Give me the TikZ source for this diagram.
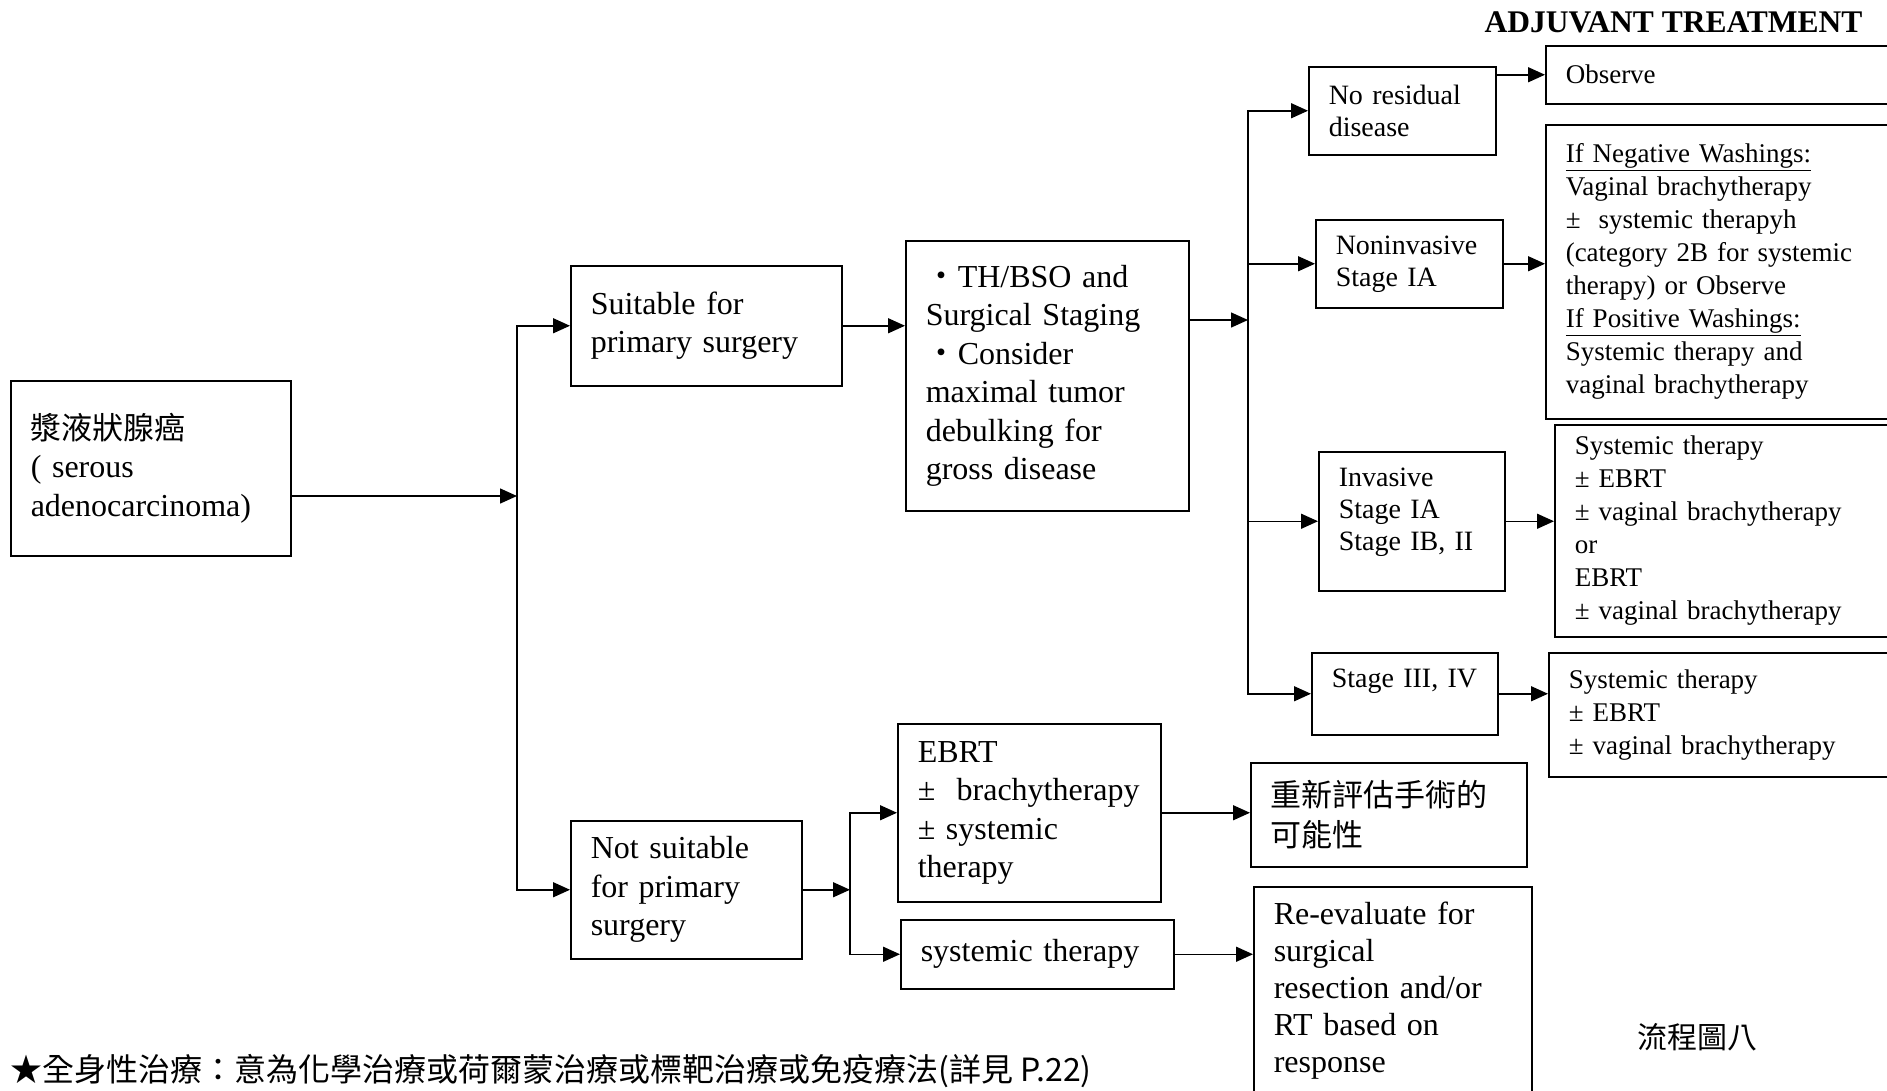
\documentclass[tikz,border=0pt]{standalone}
\usepackage{fontspec}
\setmainfont{Liberation Serif}
\newfontfamily\cjk{Noto Sans CJK TC}
\usetikzlibrary{arrows.meta, positioning, calc}

\begin{document}
\begin{tikzpicture}[
    x=1pt, y=-1pt,
    box/.style={rectangle, draw=black, line width=1.5pt, anchor=north west,
                inner xsep=20pt, inner ysep=3pt, align=left},
    txtbig/.style={font=\fontsize{32}{38.5}\selectfont},
    txtmid/.style={font=\fontsize{28}{32}\selectfont},
    txtsmall/.style={font=\fontsize{27}{33}\selectfont},
    arrow/.style={-{Triangle[length=17pt, width=15pt]}, line width=1.5pt}
]
    \useasboundingbox (0,0) rectangle (1887,1090);

    % primary branch
    \node[box, txtbig, text width=240pt, minimum height=175pt] (serous) at (10,380)
        {{\cjk\fontsize{31}{38.5}\selectfont 漿液狀腺癌}\\( serous\\adenocarcinoma)};
    \node[box, txtbig, text width=231pt, minimum height=120pt] (suit) at (570,265)
        {Suitable for\\primary surgery};
    \node[box, txtbig, text width=243pt, minimum height=270pt] (th) at (905,240)
        {{\cjk ・}TH/BSO and\\Surgical Staging\\{\cjk ・}Consider\\maximal tumor\\debulking for\\gross disease};

    % surgical findings
    \node[box, txtmid, text width=147pt, minimum height=88pt] (nores) at (1308,66)
        {No residual\\disease};
    \node[box, txtmid, text width=147pt, minimum height=88pt] (nonin) at (1315,219)
        {Noninvasive\\Stage IA};
    \node[box, txtmid, text width=146pt, minimum height=139pt, text depth=88pt] (inv) at (1318,451)
        {Invasive\\Stage IA\\Stage IB, II};
    \node[box, txtmid, text width=146pt, minimum height=82pt, text depth=32pt] (st3) at (1311,652)
        {Stage III, IV};

    % adjuvant treatment
    \node[anchor=base east, font=\bfseries\fontsize{31.5}{36}\selectfont] (title) at (1866,32)
        {ADJUVANT TREATMENT};
    \node[box, txtsmall, text width=360pt, minimum height=58pt] (obs) at (1545,45)
        {Observe};
    \node[box, txtsmall, text width=360pt, minimum height=294pt] (negw) at (1545,124)
        {\underline{If Negative Washings:}\\Vaginal brachytherapy\\±\ \ systemic therapyh\\(category 2B for systemic\\therapy) or Observe\\\underline{If Positive Washings:}\\Systemic therapy and\\vaginal brachytherapy};
    \node[box, txtsmall, text width=360pt, minimum height=212pt] (invr) at (1554,424)
        {Systemic therapy\\± EBRT\\± vaginal brachytherapy\\or\\EBRT\\± vaginal brachytherapy};
    \node[box, txtsmall, text width=360pt, minimum height=124pt] (st3r) at (1548,652)
        {Systemic therapy\\± EBRT\\± vaginal brachytherapy};

    % non-surgical branch
    \node[box, txtbig, text width=191pt, minimum height=138pt] (nsuit) at (570,820)
        {Not suitable\\for primary\\surgery};
    \node[box, txtbig, text width=223pt, minimum height=178pt] (ebrt) at (897,723)
        {EBRT\\±\ \ brachytherapy\\± systemic\\therapy};
    \node[box, txtbig, text width=233pt, minimum height=69pt] (systx) at (900,919)
        {systemic therapy};
    \node[box, font=\cjk\fontsize{31}{40}\selectfont, text width=236pt, minimum height=104pt] (reas) at (1250,762)
        {重新評估手術的\\可能性};
    \node[box, font=\fontsize{32}{37}\selectfont, text width=238pt, minimum height=208pt] (reev) at (1253,886)
        {Re-evaluate for\\surgical\\resection and/or\\RT based on\\response};

    \node[font=\cjk\fontsize{30}{36}\selectfont] (figno) at (1697,1037) {流程圖八};
    \node[anchor=base west, inner sep=0pt, font=\cjk\fontsize{32}{36}\selectfont] (note) at (10,1081)
        {★全身性治療：意為化學治療或荷爾蒙治療或標靶治療或免疫療法(詳見 P.22)};

    % connectors
    \coordinate (j1) at (517,496);
    \coordinate (j2) at (1248,320);
    \coordinate (j3) at (850,889);

    \draw[arrow] (serous.east |- j1) -- (j1);
    \draw[arrow] (j1) |- (suit.west);
    \draw[arrow] (j1) |- (nsuit.west);
    \draw[arrow] (suit.east) -- (suit.east -| th.west);
    \draw[arrow] (th.east |- j2) -- (j2);
    \foreach \n in {nores, nonin, inv, st3}
        \draw[arrow] (j2) |- (\n.west);
    \draw[arrow] (nores.east |- obs.west) -- (obs.west);
    \draw[arrow] (nonin.east) -- (nonin.east -| negw.west);
    \draw[arrow] (inv.east) -- (inv.east -| invr.west);
    \draw[arrow] (st3.east) -- (st3.east -| st3r.west);
    \draw[arrow] (nsuit.east) -- (nsuit.east -| j3);
    \draw[arrow] (j3) |- (ebrt.west);
    \draw[arrow] (j3) |- (systx.west);
    \draw[arrow] (ebrt.east) -- (ebrt.east -| reas.west);
    \draw[arrow] (systx.east) -- (systx.east -| reev.west);
\end{tikzpicture}
\end{document}
